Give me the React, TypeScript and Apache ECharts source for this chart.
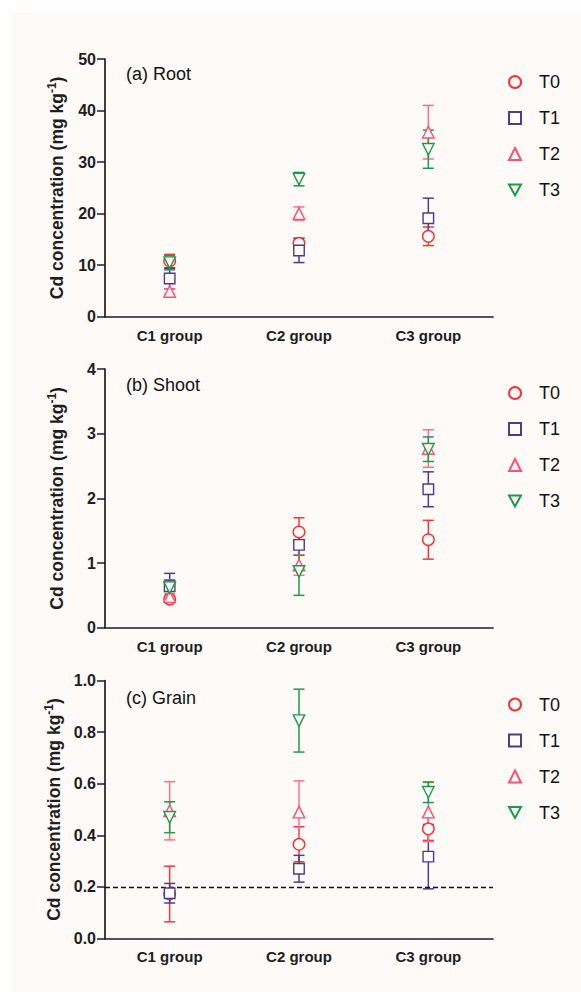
import React, { useEffect, useRef } from "react";
import * as echarts from "echarts";

const categories = ["C1 group", "C2 group", "C3 group"];
const treatments = ["T0", "T1", "T2", "T3"];
const panelTitles = ["(a) Root", "(b) Shoot", "(c) Grain"];

// means per treatment (rows T0..T3), columns C1..C3
const rootMeans = [
  [10.8, 14.25, 15.6],
  [7.4, 12.85, 19.1],
  [4.9, 20.0, 35.8],
  [10.5, 26.7, 32.5],
];
const rootSd = [
  [1.3, 0.95, 1.8],
  [2.0, 2.35, 3.9],
  [0.5, 1.3, 5.2],
  [1.4, 1.3, 3.7],
];
const shootMeans = [
  [0.44, 1.48, 1.36],
  [0.64, 1.28, 2.14],
  [0.48, 0.97, 2.77],
  [0.62, 0.87, 2.76],
];
const shootSd = [
  [0.04, 0.22, 0.3],
  [0.2, 0.16, 0.27],
  [0.05, 0.16, 0.29],
  [0.12, 0.37, 0.19],
];
const grainMeans = [
  [0.172, 0.365, 0.425],
  [0.175, 0.27, 0.317],
  [0.495, 0.49, 0.49],
  [0.47, 0.845, 0.567],
];
const grainSd = [
  [0.108, 0.068, 0.045],
  [0.038, 0.052, 0.125],
  [0.113, 0.121, 0.115],
  [0.06, 0.122, 0.04],
];
const yMax = [50, 4, 1];
const yInterval = [10, 1, 0.2];
const grainLimit = 0.2;

const colors = ["#ff2e2e", "#4b3d8c", "#ff4f72", "#1c9a48"];
const barColors = ["#ff3434", "#4b3d8c", "#ff6f8a", "#1c9a48"];
const symbols = ["circle", "rect", "triangle", "path://M0,0L10,0L5,9Z"];

const FONT = "'Liberation Sans', Arial, sans-serif";
const BG = "#fdfaf8";
const AXIS = "#1e1e1e";

export default function App() {
  const ref = useRef<HTMLDivElement>(null);
  useEffect(() => {
    if (!ref.current) return;
    const chart = echarts.init(ref.current, undefined, { renderer: "svg" });
    const means = [rootMeans, shootMeans, grainMeans];
    const sds = [rootSd, shootSd, grainSd];
    const gridTops = [59, 369, 680.7];
    const gridBottoms = [316.7, 627.7, 938.3];
    const legendTops = [68, 379, 690.5];

    const grids = gridTops.map((t, i) => ({
      left: 105,
      right: 88,
      top: t,
      height: gridBottoms[i] - t,
    }));

    const xAxes = grids.map((_, i) => ({
      type: "category",
      gridIndex: i,
      data: categories,
      boundaryGap: true,
      axisLine: { lineStyle: { color: AXIS, width: 1.7 } },
      axisTick: { alignWithLabel: true, length: 8, lineStyle: { color: AXIS, width: 1.5 } },
      axisLabel: { fontFamily: FONT, fontWeight: "bold", fontSize: 15, color: AXIS, margin: 11 },
      splitLine: { show: false },
    }));

    const yAxes = grids.map((_, i) => ({
      type: "value",
      gridIndex: i,
      min: 0,
      max: yMax[i],
      interval: yInterval[i],
      axisLine: { show: true, lineStyle: { color: AXIS, width: 1.7 } },
      axisTick: { show: true, length: 8, lineStyle: { color: AXIS, width: 1.5 } },
      axisLabel: {
        fontFamily: FONT,
        fontWeight: "bold",
        fontSize: 16,
        color: AXIS,
        margin: 9,
        formatter: (v: number) => (i === 2 ? v.toFixed(1) : String(v)),
      },
      splitLine: { show: false },
      name: "{m|Cd concentration (mg kg}{s|-1}{m|)}",
      nameLocation: "middle",
      nameGap: 37,
      nameRotate: 90,
      nameTextStyle: {
        rich: {
          m: { fontFamily: FONT, fontWeight: "bold", fontSize: 17.5, color: AXIS, lineHeight: 22 },
          s: { fontFamily: FONT, fontWeight: "bold", fontSize: 12, color: AXIS, lineHeight: 12, verticalAlign: "top" },
        },
      },
    }));

    const series: any[] = [];
    for (let p = 0; p < 3; p++) {
      for (let t = 0; t < 4; t++) {
        const m = means[p][t];
        const s = sds[p][t];
        series.push({
          type: "custom",
          name: treatments[t] + " error",
          xAxisIndex: p,
          yAxisIndex: p,
          z: 3,
          data: m.map((v, c) => [c, v - s[c], v + s[c]]),
          encode: { x: 0, y: [1, 2] },
          renderItem: (params: any, api: any) => {
            const x = api.value(0);
            const lo = api.coord([x, api.value(1)]);
            const hi = api.coord([x, api.value(2)]);
            const hw = 5.5;
            const style = { stroke: barColors[t], lineWidth: 1.5 };
            return {
              type: "group",
              children: [
                { type: "line", shape: { x1: lo[0], y1: lo[1], x2: hi[0], y2: hi[1] }, style },
                { type: "line", shape: { x1: lo[0] - hw, y1: lo[1], x2: lo[0] + hw, y2: lo[1] }, style },
                { type: "line", shape: { x1: hi[0] - hw, y1: hi[1], x2: hi[0] + hw, y2: hi[1] }, style },
              ],
            };
          },
        });
      }
      for (let t = 0; t < 4; t++) {
        const ser: any = {
          type: "scatter",
          name: treatments[t],
          xAxisIndex: p,
          yAxisIndex: p,
          z: 5,
          symbol: symbols[t],
          symbolSize: t === 1 ? 10.5 : 11.5,
          data: means[p][t],
          itemStyle: { color: BG, borderColor: colors[t], borderWidth: 1.4, opacity: 1 },
          emphasis: { disabled: true },
        };
        if (p === 2 && t === 0) {
          ser.markLine = {
            silent: true,
            symbol: "none",
            label: { show: false },
            lineStyle: { color: "#111", type: [5, 3], width: 1.3 },
            data: [{ yAxis: grainLimit }],
          };
        }
        series.push(ser);
      }
    }

    const legends = legendTops.map((top) => ({
      orient: "vertical",
      left: 503,
      top,
      itemWidth: 12,
      itemHeight: 12,
      itemGap: 18,
      data: treatments,
      selectedMode: false,
      textStyle: { fontFamily: FONT, fontSize: 18, color: "#111", padding: [0, 0, 0, 13] },
    }));

    const titles = panelTitles.map((text, i) => ({
      text,
      left: 126,
      top: [65, 376, 689][i],
      padding: 0,
      textStyle: { fontFamily: FONT, fontSize: 18, fontWeight: "normal", color: "#111" },
    }));

    chart.setOption({
      animation: false,
      backgroundColor: "#ffffff",
      graphic: [
        { type: "rect", silent: true, z: -10, shape: { x: 10, y: 13, width: 571, height: 979 }, style: { fill: BG } },
      ],
      title: titles,
      legend: legends,
      grid: grids,
      xAxis: xAxes,
      yAxis: yAxes,
      series,
    });
    return () => chart.dispose();
  }, []);
  return (
    <div
      ref={ref}
      style={{ position: "absolute", left: 0, top: 0, width: 581, height: 992 }}
    />
  );
}
